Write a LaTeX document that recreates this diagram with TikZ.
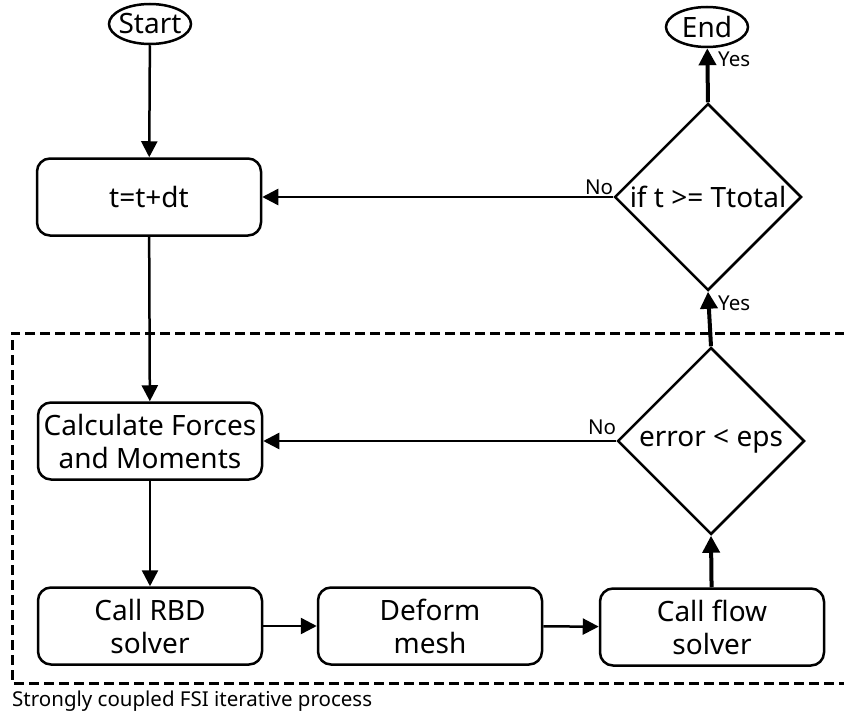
\documentclass[tikz,border=0pt]{standalone}
\usepackage{fontspec}
\setmainfont{Noto Sans}
\usetikzlibrary{shapes.geometric,arrows.meta}

\tikzset{
  box/.style={draw, line width=2.5pt, rounded corners=13pt, minimum width=224pt, minimum height=77pt, align=center, font=\fontsize{28}{33}\selectfont, inner sep=0pt},
  term/.style={draw, ellipse, line width=2.5pt, minimum width=82pt, minimum height=40pt, inner sep=-12pt, font=\fontsize{28}{33}\selectfont},
  decide/.style={draw, diamond, line width=2.5pt, minimum width=187pt, minimum height=187pt, inner sep=-20pt, font=\fontsize{28}{33}\selectfont},
  arr/.style={line width=2.5pt, -{Triangle[length=16pt,width=16pt]}},
  thickarr/.style={line width=4pt, -{Triangle[length=17pt,width=17pt]}},
  lbl/.style={font=\fontsize{20.5}{25}\selectfont, inner sep=0pt}
}

\begin{document}
\begin{tikzpicture}[x=1pt,y=-1pt]
                \useasboundingbox (0,0) rectangle (844,717);
                \node[term] (start) at (150,24) {Start};
                \node[term] (end) at (707,27) {End};
                \node[box] (step) at (149,197) {t=t+dt};
                \node[decide] (ifT) at (708,197) {if t >= Ttotal};
                \node[decide] (err) at (711,441) {error < eps};
                \node[box] (forces) at (150,441) {Calculate Forces\\and Moments};
                \node[box] (rbd) at (150,626) {Call RBD\\solver};
                \node[box] (mesh) at (430,626) {Deform\\mesh};
                \node[box] (flow) at (712,627) {Call flow\\solver};
                % dashed frame of the coupled loop
                \draw[line width=3pt, dash pattern=on 10pt off 5pt] (860,333) -- (12,333) -- (12,683) -- (860,683);
                \node[lbl, anchor=north west] (caption) at (12,691) {Strongly coupled FSI iterative process};
                \draw[arr] (start) -- (step);
                \draw[arr] (step) -- (forces);
                \draw[arr] (forces) -- (rbd);
                \draw[arr] (rbd) -- (mesh);
                \draw[arr] (mesh) -- (flow);
                \draw[thickarr] (flow) -- (err.south);
                \draw[thickarr] (err.north) -- (ifT.south);
                \draw[thickarr] (ifT.north) -- (end);
                \draw[arr] (err.west) -- (forces.east);
                \draw[arr] (ifT.west) -- (step.east);
                \node[lbl, anchor=south east] at ([yshift=2pt]ifT.west) {No};
                \node[lbl, anchor=south east] at ([yshift=6pt]err.west) {No};
                \node[lbl, anchor=west] at ([xshift=10pt,yshift=-12pt]ifT.south) {Yes};
                \node[lbl, anchor=west] at ([xshift=11pt,yshift=-11pt]end.south) {Yes};
            \end{tikzpicture}
\end{document}
